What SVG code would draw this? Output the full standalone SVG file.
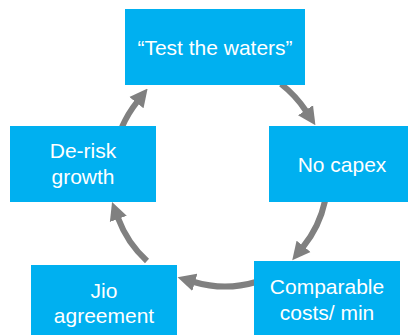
<svg xmlns="http://www.w3.org/2000/svg" width="408" height="335" viewBox="0 0 408 335">
<style>
.box{fill:#00B0F0}
.t{font-family:"Liberation Sans",Arial,sans-serif;font-size:21px;fill:#FFFFFF;text-anchor:middle}
.c{fill:none;stroke:#808080;stroke-width:6}
</style>
<defs>
<marker id="ah" viewBox="0 0 10 10" refX="0.5" refY="5" markerWidth="18" markerHeight="19" markerUnits="userSpaceOnUse" orient="auto">
<path d="M0,0 L10,5 L0,10 z" fill="#808080"/>
</marker>
</defs>
<rect width="408" height="335" fill="#FFFFFF"/>
<g id="connectors">
<path class="c" d="M281,84 A113 113 0 0 1 306,111" marker-end="url(#ah)"/>
<path class="c" d="M325,201 A110 110 0 0 1 303,247" marker-end="url(#ah)"/>
<path class="c" d="M256,282 A110 110 0 0 1 194,282" marker-end="url(#ah)"/>
<path class="c" d="M147,261 A110 110 0 0 1 118,218" marker-end="url(#ah)"/>
<path class="c" d="M122,127 A112 112 0 0 1 137,102" marker-end="url(#ah)"/>
</g>
<g id="n1"><rect class="box" x="125" y="9" width="180" height="76"/><text class="t" x="215" y="55">“Test the waters”</text></g>
<g id="n2"><rect class="box" x="269" y="126" width="146" height="76"/><text class="t" x="342" y="172">No capex</text></g>
<g id="n3"><rect class="box" x="254" y="261" width="146" height="76"/><text class="t" x="327" y="294">Comparable</text><text class="t" x="327" y="320">costs/ min</text></g>
<g id="n4"><rect class="box" x="31" y="265" width="146" height="76"/><text class="t" x="104" y="298">Jio</text><text class="t" x="104" y="323">agreement</text></g>
<g id="n5"><rect class="box" x="10" y="126" width="146" height="76"/><text class="t" x="83" y="158">De-risk</text><text class="t" x="83" y="184">growth</text></g>
</svg>
